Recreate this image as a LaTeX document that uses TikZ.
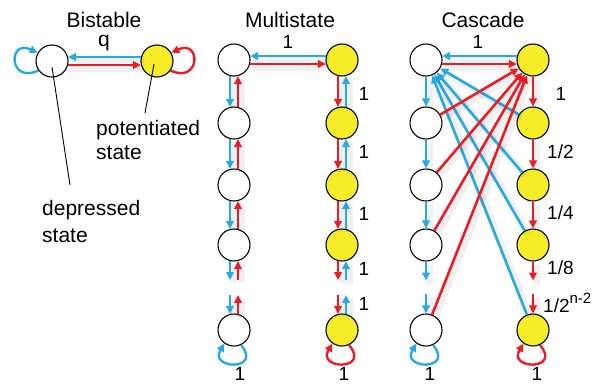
\documentclass[tikz,border=0pt]{standalone}
\usepackage{fontspec}
\setmainfont{Liberation Sans}
\usetikzlibrary{arrows.meta,calc}
\definecolor{cblue}{RGB}{39,170,225}
\definecolor{cred}{RGB}{237,28,36}
\definecolor{cyel}{RGB}{247,236,40}
\begin{document}
\begin{tikzpicture}[x=1pt,y=-1pt,
  st/.style={circle,draw=black,line width=1.1pt,minimum size=32pt,inner sep=0pt,fill=white},
  pot/.style={st,fill=cyel},
  tip/.style={-{Triangle[length=8pt,width=7.5pt]}},
  haze/.style={preaction={-,draw=black,draw opacity=0.06,line width=7pt,
      transform canvas={shift={(3pt,-3pt)}}}},
  barr/.style={haze,draw=cblue,line width=2.6pt,tip},
  rarr/.style={haze,draw=cred,line width=2.6pt,tip},
  ttl/.style={font=\fontsize{21}{24}\selectfont,inner sep=0pt},
  num/.style={font=\fontsize{19}{22}\selectfont,inner sep=0pt},
  ann/.style={draw=black,line width=0.9pt},
  bloop/.style={draw=cblue,line width=2.4pt,tip},
  rloop/.style={draw=cred,line width=2.4pt,tip}]
\useasboundingbox (0,0) rectangle (602,383);

% ---------- Bistable ----------
\node[ttl,anchor=base] (tb) at (104,27) {Bistable};
\node[ttl,anchor=base] (q) at (104,46) {q};
\node[st] (b0) at (52,61) {};
\node[pot] (b1) at (157,61) {};
\draw[barr] (b1.166) -- (b0.14);
\draw[rarr] (b0.-14) -- (b1.-166);
\draw[bloop] (b0.215) .. controls +(-30,14) and +(-30,-14) .. (b0.150);
\draw[rloop] (b1.-35) .. controls +(30,14) and +(30,-14) .. (b1.30);
\coordinate (dtip) at (70,185);
\coordinate (ptip) at (145,113);
\draw[ann] ($(b0.center)+(0,6)$) -- (dtip);
\draw[ann] ($(b1.center)+(-3,3)$) -- (ptip);
\node[ttl,anchor=north west,align=left] (ptxt) at (96,120) {potentiated\\state};
\node[ttl,anchor=north west,align=left] (dtxt) at (42,200) {depressed\\[3pt]state};

% ---------- Multistate ----------
\node[ttl,anchor=base] (tm) at (290,27) {Multistate};
\node[num,anchor=base] (mt) at (288,48) {1};
\foreach \i/\y in {0/60,1/123,2/185,3/245,4/330} {
  \node[st] (m\i) at (234,\y) {};
  \node[pot] (n\i) at (342,\y) {};
}
\draw[barr] (n0.166) -- (m0.14);
\draw[rarr] (m0.-14) -- (n0.-166);
\foreach \i/\j in {0/1,1/2,2/3} {
  \draw[barr] (m\i.-104) -- (m\j.104);
  \draw[rarr] (m\j.76) -- (m\i.-76);
  \draw[rarr] (n\i.-104) -- (n\j.104);
  \draw[barr] (n\j.76) -- (n\i.-76);
}
\draw[barr] (m3.-104) -- ++(0,19);
\draw[barr] ($(m4.104)+(0,-19)$) -- (m4.104);
\draw[rarr] ($(m3.-76)+(0,19)$) -- (m3.-76);
\draw[rarr] (m4.76) -- ++(0,-19);
\draw[rarr] (n3.-104) -- ++(0,19);
\draw[rarr] ($(n4.104)+(0,-19)$) -- (n4.104);
\draw[barr] ($(n3.-76)+(0,19)$) -- (n3.-76);
\draw[barr] (n4.76) -- ++(0,-19);
\draw[bloop] (m4.-65) .. controls +(22,26) and +(-16,26) .. (m4.-125);
\draw[rloop] (n4.-65) .. controls +(22,26) and +(-16,26) .. (n4.-125);
\foreach \k/\y in {1/100,2/158,3/220,4/275,5/310}
  \node[num,anchor=base] (ml\k) at (364,\y) {1};
\node[num,anchor=base] (mb0) at (240,380) {1};
\node[num,anchor=base] (mb1) at (344,380) {1};

% ---------- Cascade ----------
\node[ttl,anchor=base] (tc) at (483,27) {Cascade};
\node[num,anchor=base] (ct) at (478,48) {1};
\foreach \i/\y in {0/60,1/123,2/185,3/245,4/330} {
  \node[st] (c\i) at (426,\y) {};
  \node[pot] (d\i) at (533,\y) {};
}
\draw[barr] (d0.166) -- (c0.14);
\draw[rarr] (c0.-14) -- (d0.-166);
\foreach \i/\j in {0/1,1/2,2/3} {
  \draw[barr] (c\i.-90) -- (c\j.90);
  \draw[rarr] (d\i.-90) -- (d\j.90);
}
\draw[barr] (c3.-90) -- ++(0,19);
\draw[barr] ($(c4.90)+(0,-19)$) -- (c4.90);
\draw[rarr] (d3.-90) -- ++(0,19);
\draw[rarr] ($(d4.90)+(0,-19)$) -- (d4.90);
\foreach \i in {1,...,4}
  \draw[barr] (d\i) -- (c0);
\foreach \i in {1,...,4}
  \draw[rarr] (c\i) -- (d0);
\draw[bloop] (c4.-65) .. controls +(22,26) and +(-16,26) .. (c4.-125);
\draw[rloop] (d4.-65) .. controls +(22,26) and +(-16,26) .. (d4.-125);
\node[num,anchor=base] (cl1) at (561,100) {1};
\node[num,anchor=base west] (cl2) at (547,158) {1/2};
\node[num,anchor=base west] (cl3) at (547,219) {1/4};
\node[num,anchor=base west] (cl4) at (547,274) {1/8};
\node[num,anchor=base west] (cl5) at (543,312) {1/2\raisebox{9pt}{\fontsize{15}{15}\selectfont n-2}};
\node[num,anchor=base] (cb0) at (430,380) {1};
\node[num,anchor=base] (cb1) at (537,380) {1};
\end{tikzpicture}
\end{document}
